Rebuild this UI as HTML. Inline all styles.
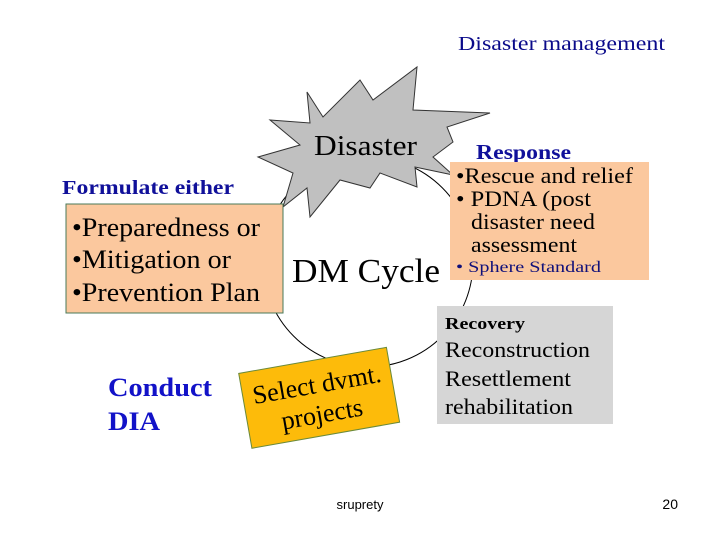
<!DOCTYPE html>
<html><head><meta charset="utf-8"><style>
html,body{margin:0;padding:0;background:#fff}
svg{display:block}
text{font-family:"Liberation Serif",serif}
</style></head><body>
<svg width="720" height="540" viewBox="0 0 720 540" xmlns="http://www.w3.org/2000/svg">
<rect width="720" height="540" fill="#fff"/>
<text x="458" y="50" font-size="20" fill="#0a0a8a" textLength="207" lengthAdjust="spacingAndGlyphs">Disaster management</text>
<circle cx="368" cy="262" r="105" fill="none" stroke="#000" stroke-width="1"/>
<polygon points="307,92 323,117 360,80 373,100 417,67 413,110 490,113 447,127 453,142 433,157 453,175 415,167 417,187 380,173 370,188 340,180 310,217 307,188 283,207 293,173 258,157 300,145 270,120 310,123" fill="#c0c0c0" stroke="#333" stroke-width="1"/>
<text x="314" y="155" font-size="29" fill="#000" textLength="103" lengthAdjust="spacingAndGlyphs">Disaster</text>
<text x="62" y="194" font-size="20" font-weight="bold" fill="#10109a" textLength="172" lengthAdjust="spacingAndGlyphs">Formulate either</text>
<rect x="66" y="204" width="217" height="109" fill="#fbc89e" stroke="#4a7a5a" stroke-width="1"/>
<text x="72" y="236" font-size="26" fill="#000" textLength="188" lengthAdjust="spacingAndGlyphs">•Preparedness or</text>
<text x="72" y="268" font-size="26" fill="#000" textLength="159" lengthAdjust="spacingAndGlyphs">•Mitigation or</text>
<text x="72" y="301" font-size="26" fill="#000" textLength="188" lengthAdjust="spacingAndGlyphs">•Prevention Plan</text>
<text x="292" y="282" font-size="34" fill="#000" textLength="148" lengthAdjust="spacingAndGlyphs">DM Cycle</text>
<text x="476" y="159" font-size="21" font-weight="bold" fill="#10109a" textLength="95" lengthAdjust="spacingAndGlyphs">Response</text>
<rect x="450" y="162" width="199" height="118" fill="#fbc89e"/>
<text x="456" y="183" font-size="22" fill="#000" textLength="177" lengthAdjust="spacingAndGlyphs">•Rescue and relief</text>
<text x="456" y="206" font-size="22" fill="#000" textLength="135" lengthAdjust="spacingAndGlyphs">• PDNA (post</text>
<text x="471" y="229" font-size="22" fill="#000" textLength="124" lengthAdjust="spacingAndGlyphs">disaster need</text>
<text x="471" y="252" font-size="22" fill="#000" textLength="106" lengthAdjust="spacingAndGlyphs">assessment</text>
<text x="456" y="272" font-size="16" fill="#10107a" textLength="145" lengthAdjust="spacingAndGlyphs">• Sphere Standard</text>
<rect x="437" y="306" width="176" height="118" fill="#d6d6d6"/>
<text x="445" y="329" font-size="17" font-weight="bold" fill="#000" textLength="80" lengthAdjust="spacingAndGlyphs">Recovery</text>
<text x="445" y="357" font-size="22" fill="#000" textLength="145" lengthAdjust="spacingAndGlyphs">Reconstruction</text>
<text x="445" y="386" font-size="22" fill="#000" textLength="126" lengthAdjust="spacingAndGlyphs">Resettlement</text>
<text x="445" y="414" font-size="22" fill="#000" textLength="128" lengthAdjust="spacingAndGlyphs">rehabilitation</text>
<g transform="rotate(-10 318 397)">
<rect x="244" y="360" width="150" height="76" fill="#fdbb0a" stroke="#6a8a3a" stroke-width="1"/>
<text x="319" y="393" font-size="26" text-anchor="middle" fill="#000">Select dvmt.</text>
<text x="319" y="423" font-size="26" text-anchor="middle" fill="#000">projects</text>
</g>
<text x="108" y="396" font-size="26" font-weight="bold" fill="#1212c8" textLength="104" lengthAdjust="spacingAndGlyphs">Conduct</text>
<text x="108" y="430" font-size="26" font-weight="bold" fill="#1212c8" textLength="52" lengthAdjust="spacingAndGlyphs">DIA</text>
<text x="360" y="509" font-size="13" text-anchor="middle" fill="#000" style="font-family:'Liberation Sans',sans-serif">sruprety</text>
<text x="678" y="509" font-size="14" text-anchor="end" fill="#000" style="font-family:'Liberation Sans',sans-serif">20</text>
</svg>
</body></html>
